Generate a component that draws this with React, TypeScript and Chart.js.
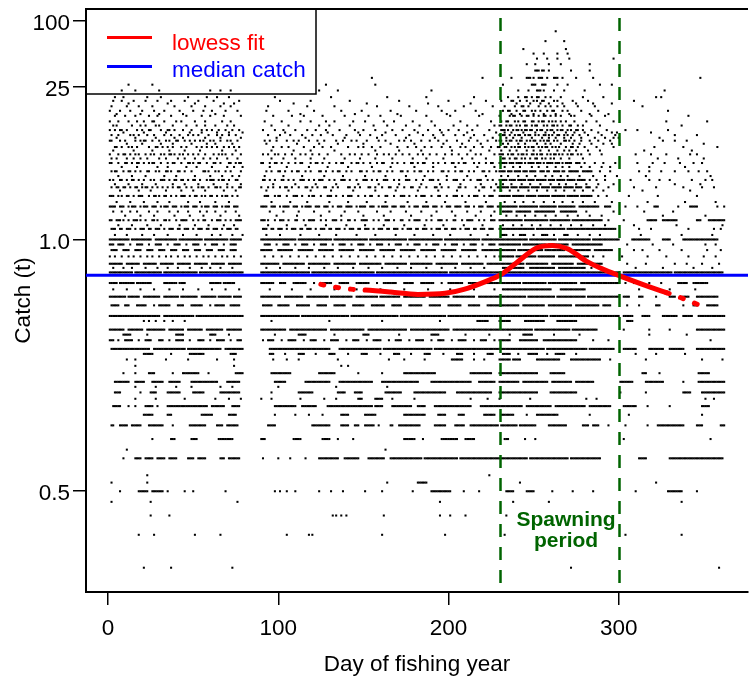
import { useEffect, useRef } from 'react';
import { Chart, registerables } from 'chart.js';

Chart.register(...registerables);

// ---------------- data ----------------
const X_MIN = -13;
const X_MAX = 376;
const Y_MIN = 0.000617;
const Y_MAX = 127.8;
const X_TICKS = [0, 100, 200, 300];
const Y_TICK_VALUES = [0.005, 1, 25, 100];
const Y_TICK_LABELS = ['0.5', '1.0', '25', '100'];
const MEDIAN_CATCH = 0.47;
const SPAWN_START = 230;
const SPAWN_END = 300;

const LOWESS_DAYS = [125, 135, 144, 151, 166, 182, 198, 209, 221, 231, 240, 252, 261, 270, 281, 291, 301, 314, 328, 334, 343, 351];
const LOWESS_CATCH = [0.389, 0.363, 0.35, 0.345, 0.331, 0.315, 0.322, 0.35, 0.408, 0.48, 0.613, 0.84, 0.882, 0.823, 0.634, 0.533, 0.463, 0.389, 0.327, 0.304, 0.268, 0.238];

// catch level of each row of landings (t)
const ROW_CATCH = [
  80, 65, 55, 50, 45, 40, 35, 30, 26, 23,
  20, 18.5, 17.5, 16.5, 15, 14, 13.5, 12, 11, 10,
  9.5, 9, 8.5, 8, 7.5, 7, 6.5, 6, 5.5, 5,
  4.6, 4.2, 3.8, 3.5, 3.2, 3, 2.8, 2.5, 2.2, 2,
  1.8, 1.65, 1.5, 1.35, 1.25, 1.1, 1, 0.9, 0.8, 0.7,
  0.6, 0.55, 0.5, 0.4, 0.35, 0.3, 0.25, 0.2, 0.18, 0.15,
  0.135, 0.12, 0.1, 0.09, 0.08, 0.07, 0.06, 0.05, 0.045, 0.04,
  0.035, 0.03, 0.025, 0.02, 0.015, 0.012, 0.01, 0.007, 0.006, 0.005,
  0.004, 0.003, 0.002, 0.001,
];

// days of the fishing year with landings at that catch level ("a-b" = every day from a to b)
const ROW_DAYS = [
  /* 80 */ '263',
  /* 65 */ '257 268',
  /* 55 */ '244 269',
  /* 50 */ '250 256 264 270',
  /* 45 */ '252 258 264 271 297',
  /* 40 */ '246 251 259 266 283',
  /* 35 */ '251-253 255-256 259 272 283',
  /* 30 */ '155 220 237 246-248 250 253-255 258 262-264 267 275 285 348',
  /* 26 */ '12 26 128 157 232 249-251 255-257 264 270 289 296',
  /* 23 */ '8 16 30 60 66 72 124 135 190 241 247 252-254 256 262 268 280 327',
  /* 20 */ '4 9 23 31 47 58 64 71 98 131 164 187 215 235 241 245-246 249 252-253 257 260 266 279 291 322 325',
  /* 18.5 */ '3 8 15 22 29 37 45 53 62 77 101 119 142 171 200 222 231 237-238 242 246 250 252 255-256 262 264 273 282 309',
  /* 17.5 */ '12 35 51 68 74 109 152 188 213 240 248 254 259 267 275 285 296',
  /* 16.5 */ '2 11 18 26 39 49 57 66 72 94 117 133 158 177 194 209 226 233 239 243-244 247 253 257 260 264 268 276 286 314',
  /* 15 */ '1 7 13 20 27 33 42 50 56 61 69 76 93 106 121 137 149 166 181 196 204 216 232 235-236 240 244-245 249 251 254 258 261-262 267 270 278 288 329',
  /* 14 */ '5 19 30 44 63 113 145 170 199 220 237 242 250 256 263 271 283 294',
  /* 13.5 */ '4 10 16 24 29 37 46 55 60 68 78 97 108 115 126 139 153 160 172 187 201 218 230 236 238-239 243 246-247 250 253 256-257 260 263 266 272 274 284 292 341',
  /* 12 */ '1 6 12 17 21 26-27 33 40 43 51 57 67 72 92 102 113 119 128 133 144 151 162 168 179 190 207 225 231 234-235 239 241 244-245 249-250 253 255-256 259 261 263 266 269 274 281 287 297 328 352',
  /* 11 */ '3 5 14 19 22 28 30 38 46 52 57 63 70 74 96 106 124 130 142 156 164 175 183 192 203 211 217 227 230-231 234 236-237 240 242 245-246 249 251-252 256 258 261-262 264 267 271-272 276 279 289 337',
  /* 10 */ '1 4 7-8 11 17 20 24-25 31 35-36 39 44 49 55 58 61 65 69 73 77 91 98 103 110 117 122 128 136 145 150 157 167 173 180 188 195 200 206 214 224 231-233 235 238 240-241 243 245-246 248-249 252 254-255 258 260-261 264 266-267 270 272 275-276 279 284 293 304 311 329',
  /* 9.5 */ '9 21 34 48 55 64 71 79 104 129 147 163 182 196 211 228 233 237 244 251 257 262 269 274 280 288 296 299 319',
  /* 9 */ '2 6 13 15 18 23 27 33 37 42 47 50 53 59 64 67 71 75 94 101 107 114 120 125 132 140 148 154 161 169 177 185 191 197 204 209 215 221 230 232-233 236 239 241-242 245 247-248 251 253 256-257 259 261 264-265 268 270 273 277 282 290 298 333 346',
  /* 8.5 */ '5 16 28 39 44 57 66 78 99 116 139 158 175 192 213 226 234 238 243 249 255 259 263 268 272 278 286 292 297 300 324',
  /* 8 */ '1-2 7 10 16 19 21-22 26 30 34 36 40-41 45 48 51 54 56 60 62 66 70 72 76 92 95 99 105 109 112 118 123 127 134 138 143 146 152 159 163 171 174 178 184 189 194 199 205 212 217 223 228 230-231 234 236-237 240 242-243 246 248 250-251 254 256 258-259 262 264 268-269 271 274 278 283 288 295 326 333 340',
  /* 7.5 */ '11 20 31 38 49 58 63 73 93 111 124 135 150 166 180 197 208 219 232 235 241 245 252 257 260 266 273 277 284 291 296 350',
  /* 7 */ '4-5 8 12 14 17 24 28-29 32 35 38 43 46 52 55 58 61 64 68 71 74 77 97 102 106 115 121 126 131 141 147 150 155 160 170 176 181 186 190 196 201 207 210 215 220 225 229 230 233-234 237 239 241-242 245 247 249-250 253 255 257-258 261 263 265 269 272-273 276 280 287 297 321 338 358',
  /* 6.5 */ '3 15 26 36 45 54 67 75 96 109 119 133 157 171 184 202 213 224 231 236 240 246 250 254 259 264 268 271 275 282 289 315 343',
  /* 6 */ '1 6 9-10 13 16 18 22 25 27 31 33 36-37 39 42 44 47 50 53 57 62 65 67 69 73 78 91 94 98 100 104 108 113 116 120 124 129 137 142 145 149 153 158 162 165 169 173 177 182 185 189 193 198 202 206 211 216 219 227 230-232 235 237-238 241 243-244 246 249-250 252 254-255 258 260 262-263 265 267 270 272-273 276 278 283 290 310 319 328 342 346',
  /* 5.5 */ '2 5 11 15 19 23 30 34 41 45 51 56 60 64 70 76 96 103 110 119 127 139 148 157 167 179 187 197 208 214 222 232-233 236 239-240 243 245 248 251-252 255 257 260 262 266 271 279 323 335 350',
  /* 5 */ '1-2 6 10-11 14 17-18 21 24 26-27 31 35 38-39 43 47-48 50 53-54 58 62-63 66 71-72 75 77-78 90-91 95 98-99 102 106 110 113-114 119 122-123 126 130 134 137-138 143 146-147 150 154 158 161-162 167 170 174 178-179 182 185-186 191 194 198 202-203 206 209-210 215 218 222 225-226 230-234 236-238 240-243 245 247-250 252-254 256 258-261 263-265 267 269-272 275-277 280 286 291 298 311 320 327 336 344 349',
  /* 4.6 */ '8 17 29 35 46 52 61 70 74 79 95 105 118 129 141 155 166 180 191 204 217 227 233 238 242 249 253 258 263 267 271 278 283 290 295 318 339',
  /* 4.2 */ '2 4-5 9 12-13 16 19 23-24 28 30 34-35 37 41-42 45 49 56-57 59 63 65 69 72 78 93 96 100-101 104 108 111-112 116 119 124-125 128 132 135-136 140 143 148-149 152 156 159-160 164 167 172-173 176 180 183-184 188 191 196-197 200 204 207-208 212 215 220-221 224 228 230-233 235-237 239-242 244-246 248-251 254-256 258-259 262-265 267-268 271-276 279-284 289 295 312 318 325 333 341 347 352',
  /* 3.8 */ '6 14 22 33 40 51 60 67 73 77 92 103 114 127 138 151 163 175 186 199 211 222 231 235 241 246 251 257 261 266 270 277 285 292 299 316 354',
  /* 3.5 */ '1 3 7-8 11 14-15 18 21 25 27 31-33 36 39-40 43-44 47 50-51 54 58 60-62 65 67-68 71 75-76 91-92 95 98 102-103 106 109 113-115 118 121 124-126 130 133 137-139 142 146 150-152 155 158 162-164 168 171 175-177 181 185 189-191 194 199 203-205 209 213 217-219 223 226 230-234 236-239 241-245 247-250 252-257 259-262 264-268 270-274 276-280 283 287 292 307 318 324 330 343 351 355',
  /* 3.2 */ '4 12 20 28 38 45 53 62 70 78 97 110 122 134 147 159 171 184 195 207 219 228 232 237 243 248 254 260 265 269 275 281 288 297 333 348',
  /* 3 */ '2 5-6 9-10 13 16-17 20 22-23 26 29 32 35 38 41-42 46 49 53 55-56 59 63-64 66 70 73 77-78 90 94 97 101 104-105 108 112 116-117 120 123 127-128 132 135 141-142 145 148 153-154 157 161 165-166 170 174 178-179 183 187 192-193 196 200 206-207 210 216 220-221 225 229 230-235 237-240 242-247 249-253 255-259 261-266 268-273 275-278 281-283 287 294 309 322 338 349 356',
  /* 2.8 */ '7 18 25 34 43 50 57 68 75 93 106 119 131 144 157 169 182 194 205 218 227 231 236 241 247 252 258 263 268 274 279 285 291 314 342',
  /* 2.5 */ '1-3 6 8 11-12 15 18-20 24 27-28 30 33-34 37 40 43-45 48 51-52 55 57 60-61 64 67 69-70 73 76 92-94 98 100-101 105 109-111 114 118 120-121 125 129-131 134 138 141-143 147 151 154-155 159 163-164 168 172-174 177 181 184-186 190 194-195 199 203-205 208 212 215-217 221 224-226 230-236 238-244 246-251 253-259 261-268 270-276 278-284 288 293 306 323 346',
  /* 2.2 */ '5 13 21 29 36 47 54 63 71 96 107 117 130 141 152 163 176 187 198 210 222 233 239 244 250 256 262 267 273 279 286 296 317 339 357',
  /* 2 */ '1-4 7-9 12 14-16 19 21-23 26-28 31 33-35 38-40 43 45-47 50-52 55 57-59 62-64 67 69-71 74-76 90-93 96-98 101 103-106 109-111 114 116-119 122-124 127-129 132 135-137 140-143 146 148-151 154-156 159 161-164 167-169 172-174 177 180-182 185-188 191-193 196 199-201 204-207 210-212 215 218-220 223-226 229 230-240 242-252 254-263 265-274 277-288 292-295 304 311 321-323 335 342-346 358 362',
  /* 1.8 */ '3 8 13 17 24 29 36 41 47 54 58 63 69 75 95 103 112 121 130 139 147 158 166 175 184 193 202 211 219 227 232-237 240-248 251-262 266-275 281 297 315 332',
  /* 1.65 */ '10 19 27 39 48 56 66 77 99 111 125 137 150 162 178 190 204 216 225 234 240 245 251 257 263 270 276 283 290 326 351',
  /* 1.5 */ '1-2 5-7 9 12 15-17 19 22 26-27 29 33-34 36 40 43-46 50 53 56-57 61 64-66 69 72 75-78 90-92 94 98 101-103 106 110-111 115 118-121 125 128 132-134 137 141-142 145 149-152 156 159 163-165 168 172-173 177 180-183 187 190 194-196 199 203-204 208 211-214 218 221 225-227 230-243 245-258 260-271 273-290 294 303 317-322 326-334 346-348 353-362',
  /* 1.35 */ '6 14 23 31 42 51 59 68 74 94 105 116 128 140 151 162 174 186 197 209 220 232 238 243 249 254 260 266 272 278 285 292 309 334 361',
  /* 1.25 */ '2-4 7-8 11-13 16 19-21 24-25 28-30 33 36-38 41-42 45-47 50 53-55 58-59 62-64 67 70-72 75-76 91-93 96-97 100-102 105 108-110 113-114 117-119 122 125-127 130-131 134-136 139 142-144 147-148 151-153 156 159-161 164-165 168-170 173 176-178 181-182 185-187 190 193-195 198-199 202-204 207 210-212 215-216 219-221 224-226 230-250 252-268 270-298 312 319 341 356 360',
  /* 1.1 */ '4 11 20 27 35 44 52 61 66 73 79 93 101 113 124 134 146 157 169 180 191 201 213 223 231-234 238 242-245 250 255-258 262 268-270 276 283 289 313 337 355',
  /* 1 */ '1-12 14-25 28-40 42-55 57-70 72-78 90-110 112-131 133-152 154-175 177-196 198-218 220-229 230-246 248-263 265-283 285-300 308-318 326-330 338-358',
  /* 0.9 */ '1-3 6-9 13 17-20 24 28-31 35 39-42 46 50-53 57 61-64 68 72-75 92-95 99 103-106 110 114-117 121 125-128 132 136-139 143 147-150 154 158-161 165 169-172 176 180-183 187 191-194 198 202-205 209 213-216 220 224-227 230-242 244-257 259-270 273-290 305 320 332 351 357',
  /* 0.8 */ '2-5 9-12 16-19 23-26 30-33 37-40 44-47 51-54 58-61 65-68 72-75 90-96 100-108 112-120 124-132 136-144 148-156 160-168 172-180 184-192 196-204 208-216 220-229 230-239 241-255 257-268 270-283 286-296 309 314 324 337 352 360',
  /* 0.7 */ '1 4 8 12 15 19 23 26 30 34 37 41 45 48 52 56 59 63 67 70 74 78 92 97 102 107 112 117 122 127 132 137 142 147 152 157 162 167 172 177 182 187 192 197 202 207 212 217 222 227 230-238 240-251 253-262 265-276 279-282 285 291 302 317 328 341 350 357',
  /* 0.6 */ '1-8 11-18 21-28 31-38 41-48 51-58 61-68 71-78 90-100 103-115 118-130 133-145 148-160 163-175 178-190 193-205 208-220 223-229 230-244 246-258 261-273 276-290 305 316 333 340 349 359',
  /* 0.55 */ '3 9 14 22 29 35 41 48 55 60 66 73 93 101 110 118 127 135 144 153 161 170 178 187 196 204 213 221 232-244 248-262 265-280 284 290 310 326 344 355',
  /* 0.5 */ '1-14 16-31 33-52 54-79 90-118 120-156 158-199 201-300 303-331 333-361',
  /* 0.4 */ '1-5 7-15 17-25 33-40 42-45 60-66 68-74 90-97 101-104 109-116 121 125-131 136-141 146-153 158 162-169 174-179 184-191 196 200-208 212-218 222-229 230-242 244-257 259-275 278-300 304 309-312 318 325 335-340 344-352',
  /* 0.35 */ '3 11 19 27 36 44 53 61 69 77 95 108 119 133 146 160 174 188 201 215 227 232-260 266-280 312 330 345',
  /* 0.3 */ '1-10 12-18 21-30 33-41 43-52 55-63 65-72 74-78 90-101 104-114 117-129 131-143 146-158 160-171 174-186 189-200 203-215 218-229 230-245 247-262 264-280 282-300 303-306 312-314 322 330-333 338-341 346-358',
  /* 0.25 */ '2-6 10-12 17-22 27 30-36 41-44 49-55 60 63-68 72-77 91-96 100-106 111-118 123-128 133-139 144-150 155-162 167-172 177-184 189-195 200-207 212-218 223-229 230-241 244-256 259-272 275-288 291-295 305 312 322-324 338 344-346 352-358',
  /* 0.2 */ '1-30 33-50 52-79 90-112 114-141 143-170 172-198 200-229 230-258 260-300 303-308 314-318 326-334 338-343 347-362',
  /* 0.18 */ '21 24 28 33 38 45 96 130 161 195 217-223 230-236 245-256 264-275 305-308',
  /* 0.15 */ '1-9 12-20 23-33 36-44 47-55 58-67 70-78 90-104 107-128 131-150 153-175 178-200 203-229 230-249 251-271 273-287 303 318 330 346-362',
  /* 0.135 */ '9-13 23 40-44 60-63 71 98 112-116 133 150-153 171 190-194 210 224 236 244-249 262 277 318 340',
  /* 0.12 */ '1-3 6 10-14 18 22-25 30-32 36 40-44 48 53-56 60 64-68 72 76-78 91 94-97 102 106-110 115 119-122 127 131-135 140 144-147 152 156-160 165 169-172 177 181-185 190 194-197 202 206-210 215 219-222 227 230-236 242-252 256-275 285 294 354',
  /* 0.1 */ '2-24 27-45 47-66 69-79 95-130 136-160 162-190 192-229 230-256 258-281 283-297 303-310 318-326 330-338 346-362',
  /* 0.09 */ '21-26 37 48-56 72-75 95-97 104 112-115 122 130-133 141 149-152 160 168-171 178 186-189 197 205-208 215 223-226 232-236 241 247-252 258 263-268 275 310 322 339',
  /* 0.08 */ '11 16 34 47 64 74 97 105 112 135 165 174 186 202-208 215 221 230-236 238-242 252-265 272-289 295 316 349 361',
  /* 0.07 */ '16 74 137 141',
  /* 0.06 */ '9 16 24-27 38 44-53 59 75-79 96-107 124-133 147 161 174-192 213-225 230-252 260-268 314-316 324 347-353',
  /* 0.05 */ '4-12 16-21 26-32 36-42 49-64 70-77 98-104 116-130 136-155 161-182 190-213 218-227 230-241 244-258 261-272 275-285 301-308 316-326 338 347-362',
  /* 0.045 */ '16 28 40 49 66 73 100 134 164',
  /* 0.04 */ '4-7 19 25-28 35-42 50-56 66-77 96 112-120 135-139 145-149 163-172 180-198 205-225 230-252 260-275 301 316 338-342 349-362',
  /* 0.035 */ '16 28 45 63 71 78 90 96 113 127 134 147-149 157-161 167 180 213 223 230 248 281 287 351 356',
  /* 0.03 */ '3-7 12 16 22-26 29 35-58 61-68 73-77 98-110 114-122 129-155 157-161 167-178 182-186 192-213 219-229 230-243 246-260 263-280 283-295 303-310 317 330 349-353',
  /* 0.025 */ '21-26 35-37 55-61 71-75 98 110 118 126 137-141 151-157 174-186 194-198 206-209 221-227 231-238 246 252-264 283 306 349',
  /* 0.02 */ '2-3 7-11 14-19 24-32 38 48-57 64-67 70-76 94-98 120-130 137-141 145-147 151-156 159 166-167 171-183 192-198 204-209 213-229 231-240 242-251 259-269 279-282 285-288 294 304 317 323-338 346-349 360-362',
  /* 0.015 */ '26 37-39 49-52 65-73 90-92 109-113 126-130 135 144 174-180 185 196-205 210-215 233-235 245 251 303 354',
  /* 0.012 */ '11 163',
  /* 0.01 */ '9 16-19 22-26 29-33 36-40 47-50 53-57 66-68 71-77 91 100 107 116 124-135 139-147 153-162 166-184 186-205 207-229 230-246 248-270 272-289 312-316 330-361',
  /* 0.007 */ '23 224',
  /* 0.006 */ '2 23 164 182-187 242 322',
  /* 0.005 */ '7 18-23 26-32 35 45 50 69 98 101 105 110 124 131 138 151 161 179 190-201 209 218 234-238 246-250 261 273 285 310 329-337 346',
  /* 0.004 */ '2 25 76 195 238 259 337',
  /* 0.003 */ '25 36 132 134 137 140 162 195 201 210 234',
  /* 0.002 */ '18 27 51 66 105 118 120 161 198 233 304 337',
  /* 0.001 */ '21 37 73 272 359',
];

function parseDays(s: string): number[] {
  const out: number[] = [];
  for (const tok of s.trim().split(/\s+/)) {
    if (!tok) continue;
    const parts = tok.split('-');
    if (parts.length === 2) {
      const a = Number(parts[0]);
      const b = Number(parts[1]);
      for (let d = a; d <= b; d++) out.push(d);
    } else {
      out.push(Number(tok));
    }
  }
  return out;
}

const FONT = '"Liberation Sans", Arial, sans-serif';
const GREEN = '#006400';
const FONT_SIZE = 22.5;

const decorPlugin = {
  id: 'decor',
  afterDatasetsDraw(chart: any) {
    const { ctx, chartArea: a, scales } = chart;
    const xs = scales.x;
    ctx.save();
    // top frame line
    ctx.strokeStyle = '#000';
    ctx.lineWidth = 2;
    ctx.beginPath();
    ctx.moveTo(a.left, a.top);
    ctx.lineTo(a.right, a.top);
    ctx.stroke();

    // spawning period lines
    ctx.strokeStyle = GREEN;
    ctx.lineWidth = 2.5;
    ctx.setLineDash([13, 10]);
    ctx.lineDashOffset = 14;
    for (const d of [SPAWN_START, SPAWN_END]) {
      const px = Math.round(xs.getPixelForValue(d)) + 0.5;
      ctx.beginPath();
      ctx.moveTo(px, a.top);
      ctx.lineTo(px, a.bottom);
      ctx.stroke();
    }
    ctx.setLineDash([]);

    ctx.fillStyle = GREEN;
    ctx.font = 'bold 21px ' + FONT;
    ctx.textAlign = 'center';
    ctx.textBaseline = 'alphabetic';
    const cx = xs.getPixelForValue((SPAWN_START + SPAWN_END) / 2) + 7;
    ctx.fillText('Spawning', cx, 526);
    ctx.fillText('period', cx, 547);

    // legend box
    const lx = a.left;
    const ly = a.top;
    ctx.strokeStyle = '#000';
    ctx.lineWidth = 1.5;
    ctx.strokeRect(lx, ly, 230, 85);
    ctx.lineWidth = 3;
    ctx.strokeStyle = '#ff0000';
    ctx.beginPath();
    ctx.moveTo(lx + 21, ly + 28.5);
    ctx.lineTo(lx + 66, ly + 28.5);
    ctx.stroke();
    ctx.strokeStyle = '#0000ff';
    ctx.beginPath();
    ctx.moveTo(lx + 21, ly + 57.5);
    ctx.lineTo(lx + 66, ly + 57.5);
    ctx.stroke();
    ctx.font = FONT_SIZE + 'px ' + FONT;
    ctx.textAlign = 'left';
    ctx.fillStyle = '#ff0000';
    ctx.fillText('lowess fit', lx + 86, ly + 40.5);
    ctx.fillStyle = '#0000ff';
    ctx.fillText('median catch', lx + 86, ly + 68);
    ctx.restore();
  },
};

export default function App() {
  const canvasRef = useRef<HTMLCanvasElement | null>(null);

  useEffect(() => {
    const canvas = canvasRef.current;
    if (!canvas) return;
    Chart.defaults.font.family = FONT;

    const points: { x: number; y: number }[] = [];
    const n = Math.min(ROW_CATCH.length, ROW_DAYS.length);
    for (let i = 0; i < n; i++) {
      for (const d of parseDays(ROW_DAYS[i])) points.push({ x: d, y: ROW_CATCH[i] });
    }

    const chart = new Chart(canvas, {
      type: 'scatter',
      data: {
        datasets: [
          {
            type: 'line',
            label: 'lowess fit',
            data: LOWESS_DAYS.map((d, i) => ({ x: d, y: LOWESS_CATCH[i] })),
            borderColor: '#ff0000',
            borderWidth: 5,
            borderCapStyle: 'round',
            pointRadius: 0,
            cubicInterpolationMode: 'monotone',
            fill: false,
            order: 0,
            segment: {
              borderDash: (ctx: any) =>
                ctx.p1.parsed.x <= 151 || ctx.p0.parsed.x >= 328 ? [3, 12] : undefined,
            },
          } as any,
          {
            type: 'line',
            label: 'median catch',
            data: [
              { x: X_MIN, y: MEDIAN_CATCH },
              { x: X_MAX, y: MEDIAN_CATCH },
            ],
            borderColor: '#0000ff',
            borderWidth: 3,
            pointRadius: 0,
            fill: false,
            order: 1,
          } as any,
          {
            type: 'scatter',
            label: 'catch',
            data: points,
            pointStyle: 'rect',
            pointRadius: 1.45,
            backgroundColor: '#000',
            borderWidth: 0,
            order: 2,
          } as any,
        ],
      },
      options: {
        responsive: false,
        animation: false,
        devicePixelRatio: 1,
        layout: { padding: { top: 9, left: 0, right: 0, bottom: 0 } },
        plugins: { legend: { display: false }, tooltip: { enabled: false } },
        scales: {
          x: {
            type: 'linear',
            min: X_MIN,
            max: X_MAX,
            afterBuildTicks: (s: any) => {
              s.ticks = X_TICKS.map((v) => ({ value: v }));
            },
            afterFit: (s: any) => {
              s.height = 87;
              s.paddingLeft = 0;
              s.paddingRight = 0;
            },
            ticks: { color: '#000', font: { size: FONT_SIZE }, padding: 10, maxRotation: 0, autoSkip: false },
            grid: { drawOnChartArea: false, drawTicks: true, tickLength: 13, color: '#000', lineWidth: 1.5 },
            border: { display: true, color: '#000', width: 2 },
            title: {
              display: true,
              text: 'Day of fishing year',
              color: '#000',
              font: { size: FONT_SIZE },
              padding: { top: 0, bottom: 1 },
            },
          },
          y: {
            type: 'logarithmic',
            min: Y_MIN,
            max: Y_MAX,
            afterBuildTicks: (s: any) => {
              s.ticks = Y_TICK_VALUES.map((v) => ({ value: v }));
            },
            afterFit: (s: any) => {
              s.width = 86;
              s.paddingTop = 0;
              s.paddingBottom = 0;
            },
            ticks: {
              color: '#000',
              font: { size: FONT_SIZE },
              padding: 3,
              labelOffset: 3,
              callback: (v: any) => {
                const i = Y_TICK_VALUES.indexOf(Number(v));
                return i >= 0 ? Y_TICK_LABELS[i] : '';
              },
            },
            grid: { drawOnChartArea: false, drawTicks: true, tickLength: 13, color: '#000', lineWidth: 1.5 },
            border: { display: true, color: '#000', width: 2 },
            title: {
              display: true,
              text: 'Catch (t)',
              color: '#000',
              font: { size: FONT_SIZE },
              padding: { top: 10, bottom: 0 },
            },
          },
        },
      },
      plugins: [decorPlugin],
    } as any);

    return () => chart.destroy();
  }, []);

  return (
    <div style={{ position: 'absolute', left: 0, top: 0, width: 752, height: 679, background: '#fff' }}>
      <canvas ref={canvasRef} width={752} height={679} style={{ display: 'block', width: 752, height: 679 }} />
    </div>
  );
}
